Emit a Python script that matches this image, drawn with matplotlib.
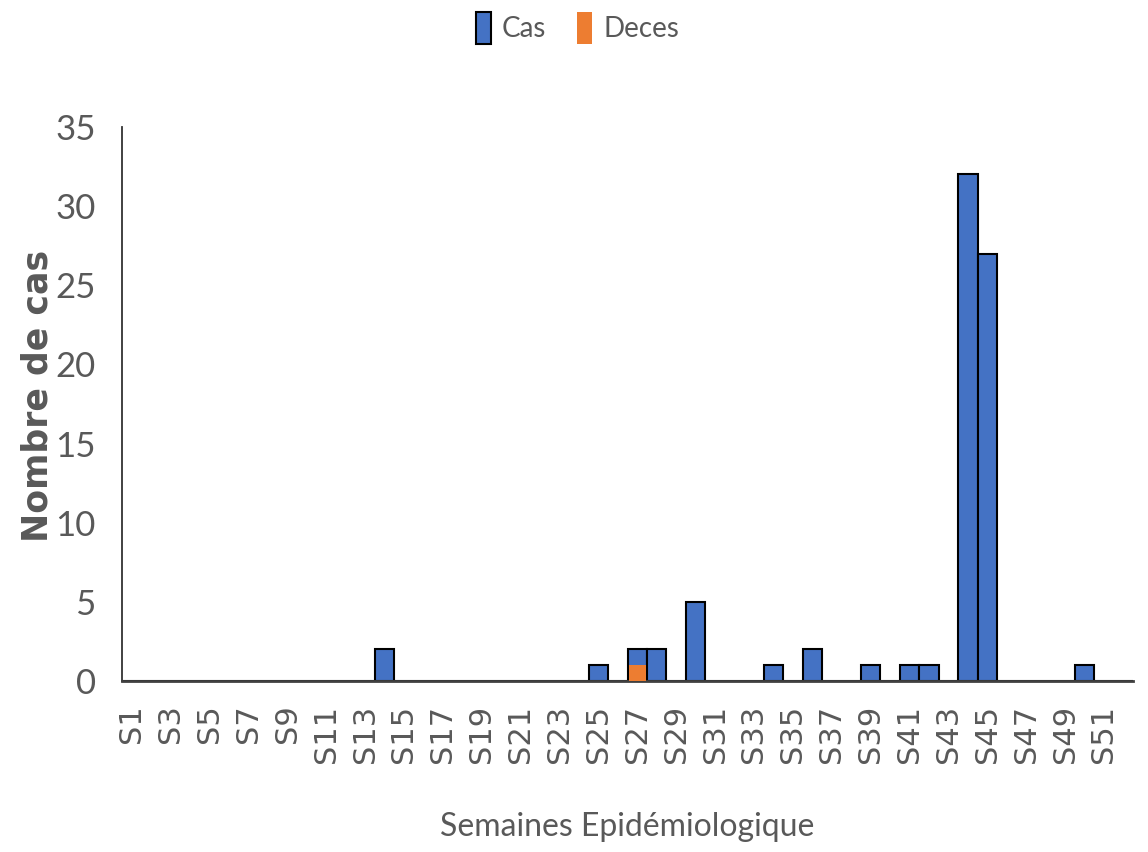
import matplotlib
matplotlib.use("Agg")
import matplotlib.pyplot as plt
import numpy as np

weeks = [f"S{i}" for i in range(1, 53)]
cas = [0, 0, 0, 0, 0, 0, 0, 0, 0, 0,
       0, 0, 0, 2, 0, 0, 0, 0, 0, 0,
       0, 0, 0, 0, 1, 0, 2, 2, 0, 5,
       0, 0, 0, 1, 0, 2, 0, 0, 1, 0,
       1, 1, 0, 32, 27, 0, 0, 0, 0, 1,
       0, 0]
deces = [0] * 52
deces[26] = 1
yticks = [0, 5, 10, 15, 20, 25, 30, 35]

body = "Lato"
grey = "#595959"
fig = plt.figure(figsize=(11.48, 8.52), dpi=100)
ax = fig.add_axes([0.1063, 0.2007, 0.8807, 0.6503])

x = np.arange(len(weeks))
ax.bar(x, cas, width=1.0, color="#4472C4", edgecolor="black", linewidth=1.5,
       label="Cas", zorder=2)
ax.bar(x, deces, width=0.9, color="#ED7D31", edgecolor="none",
       label="Deces", zorder=3)

ax.set_xlim(-0.5, len(weeks) - 0.5)
ax.set_ylim(0, 35)
ax.set_yticks(yticks)
ax.set_yticklabels([str(v) for v in yticks], fontfamily=body, fontsize=25, color=grey)
ax.tick_params(axis="y", length=0, pad=19)

ax.set_xticks(x[::2])
ax.set_xticklabels(weeks[::2], rotation=90, fontfamily="DejaVu Sans", fontsize=22,
                   color=grey)
ax.tick_params(axis="x", length=0, pad=17)

for side in ("top", "right"):
    ax.spines[side].set_visible(False)
ax.spines["left"].set_color("#333333")
ax.spines["left"].set_linewidth(1.3)
ax.spines["bottom"].set_color("#404040")
ax.spines["bottom"].set_linewidth(2)

ax.set_ylabel("Nombre de cas", fontfamily="DejaVu Sans", fontweight="bold",
              fontsize=25, color=grey)
ax.yaxis.set_label_coords(-0.067, 0.515)
fig.text(0.546, 0.029, "Semaines Epidémiologique", fontfamily=body, fontsize=23,
         color=grey, ha="center", va="center")

leg = fig.legend(loc="center", bbox_to_anchor=(0.503, 0.967), ncol=2, frameon=False,
                 prop={"family": body, "size": 20}, handlelength=0.55, handleheight=1.4,
                 columnspacing=1.1, handletextpad=0.4)
for t in leg.get_texts():
    t.set_color(grey)

fig.savefig("out.png", dpi=100)
